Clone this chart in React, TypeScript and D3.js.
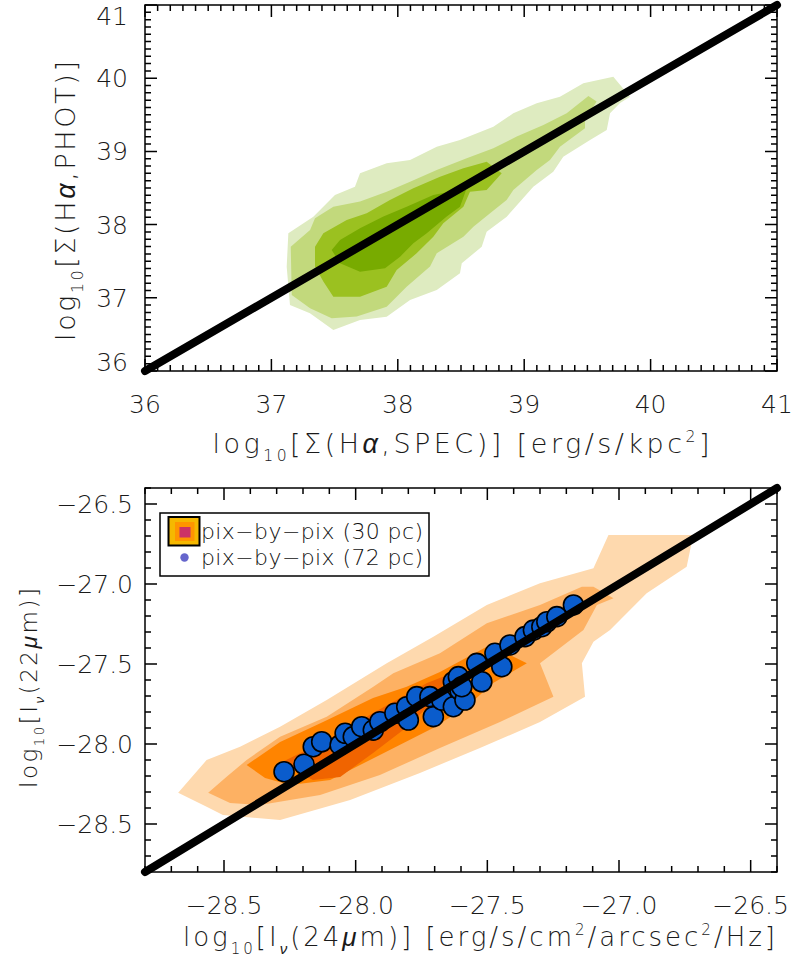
import React from "react";
import * as d3 from "d3";

// ---------- Top panel: H-alpha surface brightness, photometric vs spectroscopic ----------
const HA_TICKS = [36, 37, 38, 39, 40, 41];

// density contour levels (outermost first), [log Σ_spec, log Σ_phot]
const HA_LEVEL1: [number, number][] = [
  [39.705, 40.02], [39.837, 39.747], [39.756, 39.657], [39.679, 39.52], [39.653, 39.292],
  [39.521, 39.156], [39.309, 38.928], [39.23, 38.723], [39.072, 38.518], [38.862, 38.108],
  [38.703, 37.903], [38.664, 37.698], [38.506, 37.471], [38.492, 37.335], [38.308, 37.107],
  [38.097, 36.97], [37.912, 36.742], [37.701, 36.697], [37.49, 36.56], [37.305, 36.788],
  [37.147, 36.902], [37.121, 37.425], [37.134, 37.881], [37.332, 38.108], [37.503, 38.404],
  [37.661, 38.518], [37.701, 38.701], [37.912, 38.837], [38.097, 38.883], [38.308, 39.064],
  [38.492, 39.156], [38.756, 39.337], [38.914, 39.52], [39.099, 39.657], [39.283, 39.747],
  [39.468, 39.93],
];
const HA_LEVEL2: [number, number][] = [
  [39.508, 39.757], [39.573, 39.68], [39.481, 39.429], [39.481, 39.316], [39.283, 39.065],
  [39.204, 38.883], [39.099, 38.746], [38.914, 38.473], [38.861, 38.336], [38.73, 38.154],
  [38.598, 37.972], [38.519, 37.835], [38.308, 37.608], [38.255, 37.426], [38.07, 37.152],
  [37.912, 36.879], [37.675, 36.743], [37.477, 36.72], [37.306, 36.856], [37.161, 37.039],
  [37.153, 37.699], [37.306, 37.927], [37.345, 38.086], [37.49, 38.245], [37.701, 38.314],
  [37.912, 38.45], [38.097, 38.587], [38.308, 38.746], [38.545, 38.906], [38.756, 39.042],
  [38.941, 39.202], [39.152, 39.361], [39.336, 39.52],
];
const HA_LEVEL3: [number, number][] = [
  [38.703, 38.86], [38.822, 38.701], [38.703, 38.473], [38.571, 38.45], [38.519, 38.245],
  [38.36, 38.018], [38.281, 37.835], [38.149, 37.608], [37.991, 37.38], [37.912, 37.152],
  [37.701, 37.016], [37.49, 37.016], [37.411, 37.221], [37.345, 37.426], [37.345, 37.699],
  [37.411, 37.881], [37.596, 38.063], [37.754, 38.154], [37.938, 38.336], [38.123, 38.496],
  [38.334, 38.655], [38.519, 38.769],
];
const HA_LEVEL4: [number, number][] = [
  [38.545, 38.496], [38.492, 38.245], [38.387, 38.109], [38.229, 37.881], [38.123, 37.744],
  [38.018, 37.562], [37.899, 37.403], [37.701, 37.357], [37.543, 37.471], [37.477, 37.653],
  [37.543, 37.79], [37.701, 37.949], [37.886, 38.109], [38.07, 38.245], [38.281, 38.405],
];
const HA_COLORS = ["#deebc0", "#c2d97c", "#9bc120", "#78ab00"];

// ---------- Bottom panel: 22 µm vs 24 µm intensity ----------
const IR_TICKS = [-28.5, -28.0, -27.5, -27.0, -26.5];

// 30 pc pixel-by-pixel density contours, [log I(24µm), log I(22µm)]
const IR_LEVEL1: [number, number][] = [
  [-28.674, -28.304], [-28.566, -28.1], [-28.439, -28.017], [-28.287, -27.892], [-28.11, -27.725],
  [-27.882, -27.496], [-27.705, -27.329], [-27.502, -27.131], [-27.3, -26.996], [-27.097, -26.902],
  [-27.04, -26.694], [-26.718, -26.694], [-26.743, -26.892], [-26.895, -27.058], [-27.034, -27.288],
  [-27.097, -27.361], [-27.141, -27.496], [-27.129, -27.704], [-27.3, -27.863], [-27.528, -28.025],
  [-27.756, -28.181], [-28.021, -28.35], [-28.287, -28.475], [-28.504, -28.444], [-28.566, -28.392],
];
const IR_LEVEL2: [number, number][] = [
  [-28.56, -28.304], [-28.49, -28.204], [-28.414, -28.1], [-28.287, -27.954], [-28.11, -27.829],
  [-27.933, -27.642], [-27.857, -27.558], [-27.68, -27.433], [-27.502, -27.246], [-27.3, -27.131],
  [-27.141, -27.017], [-27.097, -27.017], [-27.021, -27.089], [-27.084, -27.131], [-27.135, -27.288],
  [-27.3, -27.496], [-27.249, -27.704], [-27.452, -27.863], [-27.68, -28.025], [-27.908, -28.194],
  [-28.135, -28.319], [-28.363, -28.381], [-28.477, -28.369],
];
const IR_LEVEL3: [number, number][] = [
  [-28.414, -28.131], [-28.287, -27.988], [-28.124, -27.863], [-27.934, -27.713], [-27.806, -27.642],
  [-27.68, -27.55], [-27.49, -27.381], [-27.35, -27.496], [-27.478, -27.619], [-27.578, -27.767],
  [-27.706, -27.9], [-27.908, -28.069], [-28.097, -28.225], [-28.249, -28.256], [-28.344, -28.213],
];
const IR_LEVEL4: [number, number][] = [
  [-28.287, -28.119], [-28.109, -27.975], [-27.934, -27.806], [-27.729, -27.619], [-27.661, -27.575],
  [-27.68, -27.694], [-27.805, -27.894], [-27.934, -28.056], [-28.059, -28.206], [-28.162, -28.225],
];
const IR_COLORS = ["#fed9ae", "#fdb163", "#ff8400", "#f06400"];

// 72 pc pixel-by-pixel measurements
const IR72_X = [
  -28.272, -28.196, -28.161, -28.129, -28.059, -28.04, -28.009, -27.977, -27.933, -27.908,
  -27.851, -27.806, -27.8, -27.768, -27.718, -27.705, -27.673, -27.629, -27.629, -27.604,
  -27.585, -27.61, -27.597, -27.54, -27.521, -27.471, -27.445, -27.414, -27.357, -27.325,
  -27.293, -27.274, -27.236, -27.173,
];
const IR72_Y = [
  -28.173, -28.127, -28.017, -27.986, -28.006, -27.933, -27.954, -27.892, -27.913, -27.861,
  -27.808, -27.767, -27.85, -27.704, -27.704, -27.829, -27.725, -27.767, -27.611, -27.663,
  -27.725, -27.579, -27.642, -27.496, -27.611, -27.433, -27.517, -27.381, -27.329, -27.288,
  -27.267, -27.236, -27.204, -27.131,
];

const LEGEND_LABELS = ["pix\u2212by\u2212pix (30 pc)", "pix\u2212by\u2212pix (72 pc)"];

const FONT = "'DejaVu Sans', 'Liberation Sans', sans-serif";
const GREEK_FONT = "'Liberation Sans', 'DejaVu Sans', sans-serif";
const INK = "#1a1a1a";

type Seg = { t: string; sub?: boolean; sup?: boolean; it?: boolean };

function rich(segs: Seg[], size: number) {
  let shift = 0;
  return segs.map((s, i) => {
    const target = s.sub ? size * 0.3 : s.sup ? -size * 0.42 : 0;
    const dy = target - shift;
    shift = target;
    return (
      <tspan
        key={i}
        dy={dy !== 0 ? dy : undefined}
        fontSize={s.sub || s.sup ? size * 0.58 : size}
        fontStyle={s.it ? "italic" : undefined}
        fontFamily={s.it ? GREEK_FONT : undefined}
        fontWeight={s.it ? 400 : undefined}
      >
        {s.t}
      </tspan>
    );
  });
}

type PanelProps = {
  left: number;
  right: number;
  top: number;
  bottom: number;
  domain: [number, number];
  ticks: number[];
  minorStep: number;
  fmt: (v: number) => string;
  levels: [number, number][][];
  colors: string[];
  yLabelGap: number;
  xLabelBase: number;
  children?: (x: d3.ScaleLinear<number, number>, y: d3.ScaleLinear<number, number>) => React.ReactNode;
};

function Panel(p: PanelProps) {
  const x = d3.scaleLinear().domain(p.domain).range([p.left, p.right]);
  const y = d3.scaleLinear().domain(p.domain).range([p.bottom, p.top]);
  const area = d3
    .line<[number, number]>()
    .x((d) => x(d[0]))
    .y((d) => y(d[1]))
    .curve(d3.curveLinearClosed);
  const n = Math.round((p.domain[1] - p.domain[0]) / p.minorStep);
  const minor = d3.range(n + 1).map((i) => p.domain[0] + i * p.minorStep);
  const isMajor = (v: number) => p.ticks.some((t) => Math.abs(t - v) < 1e-6);
  const MAJ = 12;
  const MIN = 6;
  const tickPath: string[] = [];
  minor.forEach((v) => {
    const L = isMajor(v) ? MAJ : MIN;
    const px = x(v);
    const py = y(v);
    tickPath.push(`M${px},${p.bottom}v${-L}`, `M${px},${p.top}v${L}`);
    tickPath.push(`M${p.left},${py}h${L}`, `M${p.right},${py}h${-L}`);
  });
  const [d0, d1] = p.domain;
  // keep the end labels of the y axis inside the page
  const labelY = (t: number) => Math.min(Math.max(y(t), p.top + 11), p.bottom - 9);
  return (
    <g>
      {p.levels.map((lv, i) => (
        <path key={i} d={area(lv) ?? ""} fill={p.colors[i]} stroke="none" />
      ))}
      {p.children ? p.children(x, y) : null}
      <line
        x1={x(d0)}
        y1={y(d0)}
        x2={x(d1)}
        y2={y(d1)}
        stroke="#000"
        strokeWidth={8}
        strokeLinecap="round"
      />
      <rect
        x={p.left}
        y={p.top}
        width={p.right - p.left}
        height={p.bottom - p.top}
        fill="none"
        stroke="#000"
        strokeWidth={1.5}
      />
      <path d={tickPath.join("")} stroke="#000" strokeWidth={1.5} fill="none" />
      <g fontFamily={FONT} fontSize={25} fontWeight={300} fill={INK}>
        {p.ticks.map((t) => (
          <text key={"x" + t} x={x(t)} y={p.xLabelBase} textAnchor="middle">
            {p.fmt(t)}
          </text>
        ))}
        {p.ticks.map((t) => (
          <text key={"y" + t} x={p.left - p.yLabelGap} y={labelY(t) + 9} textAnchor="end">
            {p.fmt(t)}
          </text>
        ))}
      </g>
    </g>
  );
}

export default function App() {
  const fmtInt = d3.format("d");
  const fmt1 = d3.format(".1f");
  return (
    <svg
      width={794}
      height={959}
      viewBox="0 0 794 959"
      style={{ position: "absolute", left: 0, top: 0, background: "#fff" }}
    >
      <rect x={0} y={0} width={794} height={959} fill="#fff" />
      <Panel
        left={145}
        right={777}
        top={5}
        bottom={371}
        domain={[36, 41]}
        ticks={HA_TICKS}
        minorStep={0.1}
        fmt={fmtInt}
        levels={[HA_LEVEL1, HA_LEVEL2, HA_LEVEL3, HA_LEVEL4]}
        colors={HA_COLORS}
        yLabelGap={17}
        xLabelBase={413}
      />
      <Panel
        left={145}
        right={777}
        top={488}
        bottom={872}
        domain={[-28.8, -26.4]}
        ticks={IR_TICKS}
        minorStep={0.1}
        fmt={fmt1}
        levels={[IR_LEVEL1, IR_LEVEL2, IR_LEVEL3, IR_LEVEL4]}
        colors={IR_COLORS}
        yLabelGap={12}
        xLabelBase={914}
      >
        {(x, y) => (
          <g>
            {IR72_X.map((v, i) => (
              <circle
                key={i}
                cx={x(v)}
                cy={y(IR72_Y[i])}
                r={10}
                fill="#0a5ccc"
                stroke="#000"
                strokeWidth={1.6}
              />
            ))}
          </g>
        )}
      </Panel>

      {/* axis titles */}
      <g fontFamily={FONT} fontWeight={300} fill={INK} style={{ whiteSpace: "pre" }}>
        <text x={461} y={453} textAnchor="middle" textLength={497} lengthAdjust="spacing">
          {rich(
            [
              { t: "log" },
              { t: "10", sub: true },
              { t: "[\u03A3(H" },
              { t: "\u03B1", it: true },
              { t: ",SPEC)]  [erg/s/kpc" },
              { t: "2", sup: true },
              { t: "]" },
            ],
            27
          )}
        </text>
        <text
          transform="translate(75,201) rotate(-90)"
          x={0}
          y={0}
          textAnchor="middle"
          textLength={280}
          lengthAdjust="spacing"
        >
          {rich(
            [
              { t: "log" },
              { t: "10", sub: true },
              { t: "[\u03A3(H" },
              { t: "\u03B1", it: true },
              { t: ",PHOT)]" },
            ],
            27
          )}
        </text>
        <text x={479} y={946} textAnchor="middle" textLength={592} lengthAdjust="spacing">
          {rich(
            [
              { t: "log" },
              { t: "10", sub: true },
              { t: "[I" },
              { t: "\u03BD", sub: true, it: true },
              { t: "(24" },
              { t: "\u03BC", it: true },
              { t: "m)]  [erg/s/cm" },
              { t: "2", sup: true },
              { t: "/arcsec" },
              { t: "2", sup: true },
              { t: "/Hz]" },
            ],
            26
          )}
        </text>
        <text
          transform="translate(37,688) rotate(-90)"
          x={0}
          y={0}
          textAnchor="middle"
          textLength={200}
          lengthAdjust="spacing"
        >
          {rich(
            [
              { t: "log" },
              { t: "10", sub: true },
              { t: "[I" },
              { t: "\u03BD", sub: true, it: true },
              { t: "(22" },
              { t: "\u03BC", it: true },
              { t: "m)]" },
            ],
            23
          )}
        </text>
      </g>

      {/* legend */}
      <g>
        <rect x={160} y={513} width={269} height={63} fill="#fff" stroke="#000" strokeWidth={1.5} />
        <rect x={168.5} y={517} width={31} height={28.5} fill="#f5b800" stroke="#000" strokeWidth={2} />
        <rect x={175} y={522} width={19.5} height={19} fill="#ff9500" />
        <rect x={179.5} y={527} width={11} height={10.5} fill="#cc3366" />
        <circle cx={184.5} cy={557.5} r={4.2} fill="#6666cc" />
        <g fontFamily={FONT} fontSize={22} fontWeight={300} fill="#111" style={{ whiteSpace: "pre" }}>
          <text x={201} y={539} textLength={222} lengthAdjust="spacing">
            {LEGEND_LABELS[0]}
          </text>
          <text x={201} y={565} textLength={222} lengthAdjust="spacing">
            {LEGEND_LABELS[1]}
          </text>
        </g>
      </g>
    </svg>
  );
}
